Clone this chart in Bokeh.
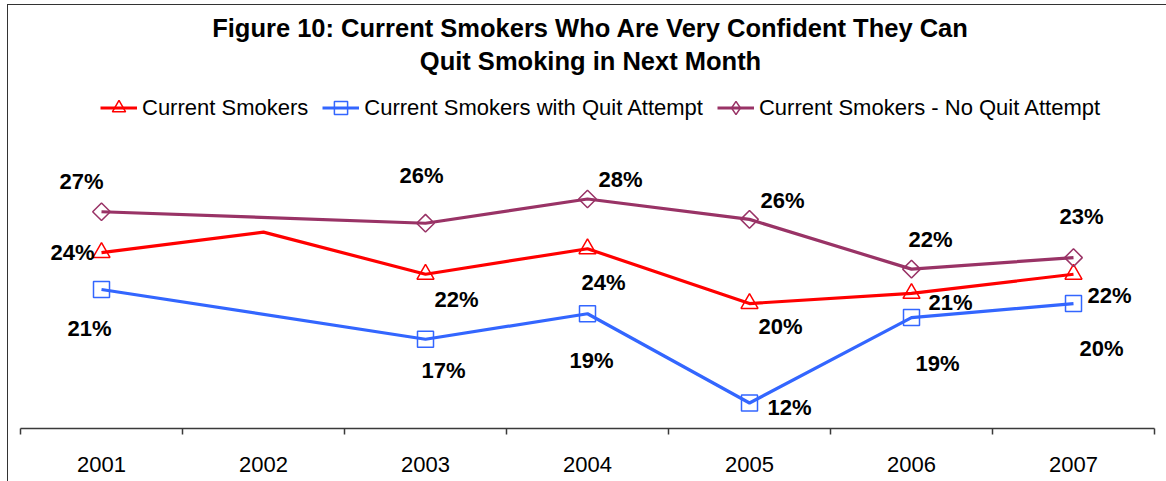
from bokeh.plotting import figure
from bokeh.models import (FixedTicker, Label, Legend, LegendItem, InlineStyleSheet,
                          ColumnDataSource, Range1d)
from bokeh.embed import file_html
from bokeh.resources import INLINE
from bokeh.core.properties import value
import numpy as np

# ---------------- data ----------------
years = [2001, 2002, 2003, 2004, 2005, 2006, 2007]

current = [23.8, 25.4, 22.1, 24.1, 19.8, 20.6, 22.1]
current_labels = ["24%", "", "22%", "24%", "20%", "21%", "22%"]

with_quit = [20.9, None, 17.0, 19.0, 12.0, 18.7, 19.8]
with_quit_labels = ["21%", "", "17%", "19%", "12%", "19%", "20%"]

no_quit = [27.0, None, 26.1, 28.0, 26.4, 22.5, 23.4]
no_quit_labels = ["27%", "", "26%", "28%", "26%", "22%", "23%"]

series_names = ["Current Smokers", "Current Smokers with Quit Attempt",
                "Current Smokers - No Quit Attempt"]
title_lines = ["Figure 10: Current Smokers Who Are Very Confident They Can",
               "Quit Smoking in Next Month"]

# ---------------- styles / layout ----------------
FONT = "Liberation Sans"
colors = ["#FF0000", "#3366FF", "#993366"]
markers = ["triangle", "square", "square"]
legend_markers = ["triangle", "square", "diamond"]
marker_sizes = [17, 16, 12.5]
marker_angles = [0, 0, np.pi / 4]
label_offsets = [
    [(-29, 0), None, (31, 25), (16, 34), (31, 23), (39, 9), (36, 21)],
    [(-12, 39), None, (18, 31), (4, 47), (40, 4), (26, 46), (28, 45)],
    [(-20, -30), None, (-4, -48), (33, -20), (33, -19), (19, -30), (8, -41)],
]

X0 = years[0] - 0.5          # left bound of the category axis
PX = 162.0                   # pixels per category
PY = 12.75                   # pixels per percentage point
Y0 = 10.0
FRAME_H = 428

border_css = InlineStyleSheet(css="""
:host { position: relative; }
:host::after {
  content: ""; position: absolute; left: 7px; top: 4px; right: 0; bottom: 0;
  border-left: 1.5px solid #333333; border-top: 1.5px solid #333333;
  pointer-events: none;
}
""")

p = figure(width=1166, height=481, output_backend="svg", toolbar_location=None,
           x_range=Range1d(X0 - 20 / PX, X0 + 1146 / PX),
           y_range=Range1d(Y0, Y0 + FRAME_H / PY),
           y_axis_location=None,
           min_border_left=0, min_border_right=0, min_border_top=0,
           min_border_bottom=481 - FRAME_H,
           stylesheets=[border_css])
p.grid.visible = False
p.outline_line_color = None
p.background_fill_color = "white"
p.border_fill_color = "white"


def canvas_y(yc):
    return Y0 + (FRAME_H - yc) / PY


def canvas_x(xc):
    return X0 + (xc - 20) / PX


# x axis
ax = p.xaxis[0]
ax.ticker = FixedTicker(ticks=years, minor_ticks=[y - 0.5 for y in years] + [years[-1] + 0.5])
ax.bounds = (X0, years[-1] + 0.5)
ax.major_tick_out = 0
ax.major_tick_in = 0
ax.minor_tick_out = 6
ax.minor_tick_in = 0
ax.minor_tick_line_color = "#3a3a3a"
ax.minor_tick_line_width = 1.5
ax.axis_line_color = "#3a3a3a"
ax.axis_line_width = 1.5
ax.major_label_text_font = FONT
ax.major_label_text_font_size = "22px"
ax.major_label_text_color = "black"
ax.major_label_standoff = 22

all_values = [current, with_quit, no_quit]
all_labels = [current_labels, with_quit_labels, no_quit_labels]
legend_items = []
for i in range(3):
    vals = all_values[i]
    labs = all_labels[i]
    lx = [y for y, v in zip(years, vals) if v is not None]
    ly = [v for v in vals if v is not None]
    line_r = p.line(lx, ly, line_color=colors[i], line_width=3.2)
    mx = [y for y, v, t in zip(years, vals, labs) if v is not None and t]
    my = [v for v, t in zip(vals, labs) if v is not None and t]
    mt = [t for v, t in zip(vals, labs) if v is not None and t]
    offs = [o for o, v, t in zip(label_offsets[i], vals, labs) if v is not None and t]
    src = ColumnDataSource(dict(x=mx, y=my, t=mt,
                                dx=[o[0] for o in offs], dy=[o[1] for o in offs]))
    p.scatter("x", "y", source=src, marker=markers[i], size=marker_sizes[i],
              angle=marker_angles[i], line_color=colors[i], line_width=1.5,
              fill_color="white", fill_alpha=0)
    # legend-only marker renderer (hidden in the plot) so the legend shows the right symbol
    leg_r = p.scatter("x", "y", source=src, marker=legend_markers[i], line_color=colors[i],
                      line_width=1.5, fill_color="white", fill_alpha=0, visible=False)
    p.text("x", "y", text="t", source=src, x_offset="dx", y_offset="dy",
           text_align="center", text_baseline="middle",
           text_font=value(FONT), text_font_style="bold", text_font_size="22px",
           text_color="black")
    legend_items.append(LegendItem(label=series_names[i], renderers=[line_r, leg_r]))

legend = Legend(items=legend_items, orientation="horizontal",
                location=(100, FRAME_H - 124), padding=0, margin=0, spacing=14,
                glyph_width=37, glyph_height=33, label_standoff=5,
                label_text_font=FONT, label_text_font_size="22px",
                label_text_color="black", border_line_color=None,
                background_fill_alpha=0)
p.add_layout(legend, "center")

for txt, yc in zip(title_lines, [27, 60]):
    p.add_layout(Label(x=canvas_x(590), y=canvas_y(yc), text=txt,
                       text_align="center", text_baseline="middle",
                       text_font=FONT, text_font_style="bold",
                       text_font_size="25.5px", text_color="black"))

open("out.html", "w").write(file_html(p, INLINE))
